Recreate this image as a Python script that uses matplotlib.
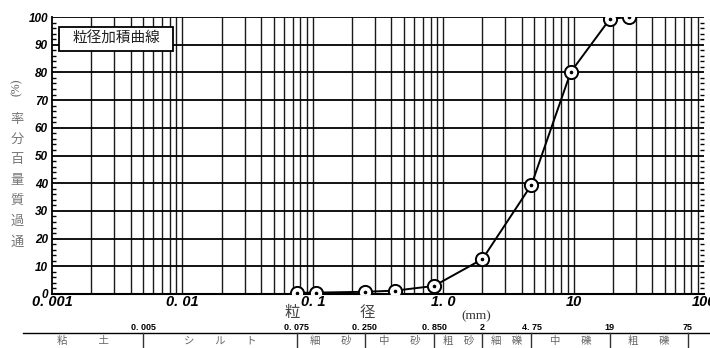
# -*- encoding: utf-8 -*-
import matplotlib
matplotlib.use('Agg')
import matplotlib.pyplot as plt
import matplotlib.transforms as mtransforms
from matplotlib.patches import Rectangle
import numpy as np

# sieve analysis result
size_mm = [0.075, 0.106, 0.25, 0.425, 0.85, 2.0, 4.75, 9.5, 19.0, 26.5]
passing = [0.4, 0.5, 0.8, 1.2, 2.9, 12.6, 39.4, 80.1, 99.3, 100.0]

xticks = [0.001, 0.01, 0.1, 1.0, 10, 100]
xtick_labels = ['0. 001', '0. 01', '0. 1', '1. 0', '10', '100']
yticks = list(range(0, 101, 10))

# soil classification boundaries (mm)
bounds = [0.005, 0.075, 0.25, 0.85, 2, 4.75, 19, 75]
bound_labels = ['0. 005', '0. 075', '0. 250', '0. 850', '2', '4. 75', '19', '75']
soil_names = ['粘　　　土', 'シ　　ル　　ト', '細　　砂', '中　　砂', '粗　砂',
              '細　礫', '中　　礫', '粗　　礫']
table_left = 0.0006

ylabel_chars = ['通', '過', '質', '量', '百', '分', '率']

JP = ['Noto Sans CJK JP', 'DejaVu Sans']
NUM = ['Liberation Sans Narrow', 'Liberation Sans', 'DejaVu Sans']

fig = plt.figure(figsize=(7.10, 3.48), dpi=100)
W, H = 710.0, 348.0
ax = fig.add_axes([52 / W, 1 - 294 / H, (704 - 52) / W, (294 - 17) / H])
ax.set_xscale('log')
ax.set_xlim(0.001, 100)
ax.set_ylim(0, 100)

# grid: every 1..9 of each decade, every 10 %
for dec in [0.001, 0.01, 0.1, 1, 10]:
    for k in range(1, 10):
        if dec * k > 0.001:
            ax.axvline(dec * k, color='#1a1a1a', lw=1.0, zorder=1)
for v in yticks[1:]:
    ax.axhline(v, color='black', lw=1.3, zorder=1)

# curve
ax.plot(size_mm, passing, color='black', lw=1.4, zorder=3)
ax.plot(size_mm, passing, 'o', ms=9.5, mfc='white', mec='black', mew=1.4, zorder=4)
ax.plot(size_mm, passing, 'o', ms=1.6, color='black', zorder=5)

for s in ['top', 'right']:
    ax.spines[s].set_visible(False)
ax.spines['left'].set_linewidth(1.3)
ax.spines['bottom'].set_linewidth(1.5)

ax.set_xticks(xticks)
ax.set_xticklabels(xtick_labels, fontfamily=NUM, fontweight='bold',
                   fontstyle='italic', fontsize=10.5)
ax.xaxis.set_minor_locator(matplotlib.ticker.NullLocator())
ax.tick_params(axis='x', length=0, pad=1)
ax.set_yticks(yticks)
ax.set_yticklabels([str(v) for v in yticks], fontfamily=NUM, fontweight='bold',
                   fontstyle='italic', fontsize=8.5)
ax.set_yticks(np.arange(0, 101, 2), minor=True)
ax.tick_params(axis='y', which='major', length=0, pad=3)
ax.tick_params(axis='y', which='minor', direction='in', length=3, width=1,
               left=True, right=True)

# title box
ax.add_patch(Rectangle((0.0108, 0.877), 0.175, 0.087, transform=ax.transAxes,
                       facecolor='white', edgecolor='black', lw=1.3, zorder=6))
ax.text(0.0108 + 0.0875, 0.92, '粒径加積曲線', transform=ax.transAxes,
        ha='center', va='center', fontsize=10.5, family=JP, color='#222', zorder=7)

# axis labels
fig.text(292 / W, 1 - 313 / H, '粒', ha='center', va='center', fontsize=11,
         family=JP, color='#444')
fig.text(367 / W, 1 - 313 / H, '径', ha='center', va='center', fontsize=11,
         family=JP, color='#444')
fig.text(476 / W, 1 - 316 / H, '(mm)', ha='center', va='center', fontsize=9.5,
         family=['Liberation Serif', 'DejaVu Serif'], color='#333')
for i, ch in enumerate(ylabel_chars):
    fig.text(17 / W, 1 - (242 - i * 20.5) / H, ch, ha='center', va='center',
             fontsize=9.5, family=JP, color='#777')
fig.text(17 / W, 1 - 87 / H, '(%)', ha='center', va='center', rotation=90,
         fontsize=8.5, family=['Liberation Serif', 'DejaVu Serif'], color='#555')

# classification table under the chart
trans = mtransforms.blended_transform_factory(ax.transData, fig.transFigure)
y_line = 1 - 333 / H
x0 = ax.transData.transform((table_left, 0))[0] / fig.dpi / fig.get_figwidth()
fig.add_artist(plt.Line2D([x0, 1.0], [y_line, y_line], color='black', lw=1.0))
for b, lab in zip(bounds, bound_labels):
    fig.add_artist(plt.Line2D([b, b], [y_line, 0], transform=trans,
                              color='#333', lw=1.0, clip_on=False))
    fig.text(b, 1 - 327 / H, lab, transform=trans, ha='center', va='center',
             fontsize=6.5, fontweight='bold', family=NUM)
edges = [table_left] + bounds
for i, name in enumerate(soil_names):
    xc = np.sqrt(edges[i] * edges[i + 1])
    fig.text(xc, 1 - 341 / H, name, transform=trans, ha='center', va='center',
             fontsize=7.5, family=JP, color='#666')

fig.savefig('out.png', dpi=100)
